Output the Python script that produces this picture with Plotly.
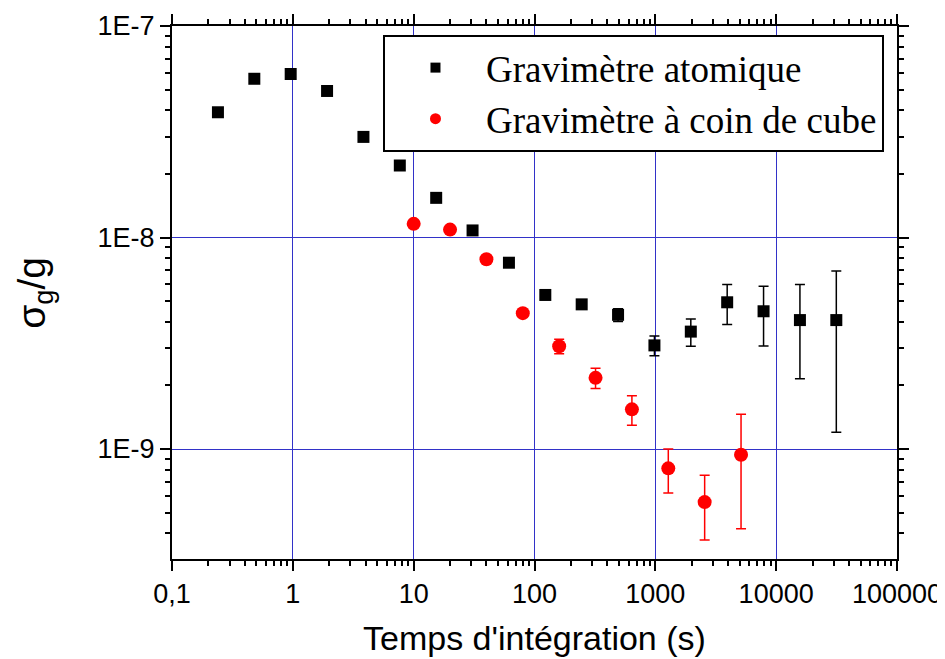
import plotly.graph_objects as go

# ---- data ----
atomic_t = [0.24, 0.48, 0.96, 1.92, 3.84, 7.68, 15.36, 30.72, 61.44, 122.88,
            245.76, 491.52, 983, 1966, 3932, 7864, 15729, 31457]
atomic_sigma = [3.91e-8, 5.63e-8, 5.93e-8, 4.93e-8, 2.99e-8, 2.19e-8, 1.54e-8,
                1.08e-8, 7.6e-9, 5.35e-9, 4.83e-9, 4.31e-9, 3.09e-9, 3.59e-9,
                4.94e-9, 4.48e-9, 4.07e-9, 4.07e-9]
atomic_err = [None, None, None, None, None, None, None, None, None, None,
              None, 0.3e-9, 0.33e-9, 0.53e-9, 1.06e-9, 1.41e-9, 1.92e-9, 2.87e-9]

cube_t = [10, 20, 40, 80, 160, 320, 640, 1280, 2560, 5120]
cube_sigma = [1.16e-8, 1.09e-8, 7.89e-9, 4.39e-9, 3.06e-9, 2.17e-9, 1.54e-9,
              8.1e-10, 5.61e-10, 9.4e-10]
cube_err = [None, None, None, None, 0.24e-9, 0.24e-9, 0.245e-9, 0.19e-9,
            0.19e-9, 0.52e-9]

x_tickvals = [0.1, 1, 10, 100, 1000, 10000, 100000]
x_ticktext = ["0,1", "1", "10", "100", "1000", "10000", "100000"]
y_tickvals = [1e-9, 1e-8, 1e-7]
y_ticktext = ["1E-9", "1E-8", "1E-7"]

series_names = ["Gravimètre atomique", "Gravimètre à coin de cube"]

x_minor = [k * 10.0 ** e for e in range(-1, 5) for k in range(2, 10)]
y_minor = [k * 10.0 ** e for e in range(-10, -7) for k in range(2, 10)]

fig = go.Figure()

fig.add_trace(go.Scatter(
    x=atomic_t, y=atomic_sigma, mode="markers", showlegend=False,
    marker=dict(symbol="square", size=12, color="black"),
    error_y=dict(type="data", array=atomic_err, visible=True,
                 color="black", thickness=1.5, width=5),
))
fig.add_trace(go.Scatter(
    x=cube_t, y=cube_sigma, mode="markers", showlegend=False,
    marker=dict(symbol="circle", size=14, color="#ff0000"),
    error_y=dict(type="data", array=cube_err, visible=True,
                 color="#ff0000", thickness=1.5, width=5),
))
# legend entries (smaller symbols, as in the reference legend)
fig.add_trace(go.Scatter(x=[None], y=[None], mode="markers", name=series_names[0],
                         marker=dict(symbol="square", size=10, color="black")))
fig.add_trace(go.Scatter(x=[None], y=[None], mode="markers", name=series_names[1],
                         marker=dict(symbol="circle", size=11, color="#ff0000")))

axis_common = dict(
    showline=True, linecolor="black", linewidth=2, mirror="ticks",
    ticks="outside", tickcolor="black", tickwidth=1.5, ticklen=10,
    showgrid=True, gridcolor="rgb(50,50,200)", gridwidth=1,
    zeroline=False, automargin=False,
    tickfont=dict(family="Liberation Sans, Arial", size=27, color="black"),
)

fig.update_xaxes(
    type="log", range=[-1, 5], tickmode="array",
    tickvals=x_tickvals, ticktext=x_ticktext,
    minor=dict(tickmode="array", tickvals=x_minor, ticks="outside",
               ticklen=5, tickwidth=1.5, tickcolor="black", showgrid=False),
    **axis_common,
)
fig.update_yaxes(
    type="log", range=[-9.52, -7], tickmode="array",
    tickvals=y_tickvals, ticktext=y_ticktext,
    minor=dict(tickmode="array", tickvals=y_minor, ticks="outside",
               ticklen=5, tickwidth=1.5, tickcolor="black", showgrid=False),
    **axis_common,
)

fig.add_annotation(
    text="Temps d'intégration (s)", xref="paper", yref="paper",
    x=0.5, y=-0.148, xanchor="center", yanchor="middle", showarrow=False,
    font=dict(family="Liberation Sans, Arial", size=34, color="black"),
)
fig.add_annotation(
    text="σ<sub>g</sub>/g", xref="paper", yref="paper",
    x=-0.19, y=0.5, xanchor="center", yanchor="middle", showarrow=False,
    textangle=-90,
    font=dict(family="Liberation Sans, Arial", size=39, color="black"),
)

# the page body adds an 8 px offset, so the figure is 8 px smaller on each side
fig.update_layout(
    width=937, height=651,
    margin=dict(l=164, r=48, t=18, b=100, autoexpand=False),
    paper_bgcolor="white", plot_bgcolor="white",
    showlegend=True,
    legend=dict(
        x=0.291, y=0.983, xanchor="left", yanchor="top",
        bgcolor="white", bordercolor="black", borderwidth=2,
        font=dict(family="Liberation Serif, Times New Roman", size=37, color="black"),
        itemwidth=91,
    ),
)

fig.write_html("out.html")
